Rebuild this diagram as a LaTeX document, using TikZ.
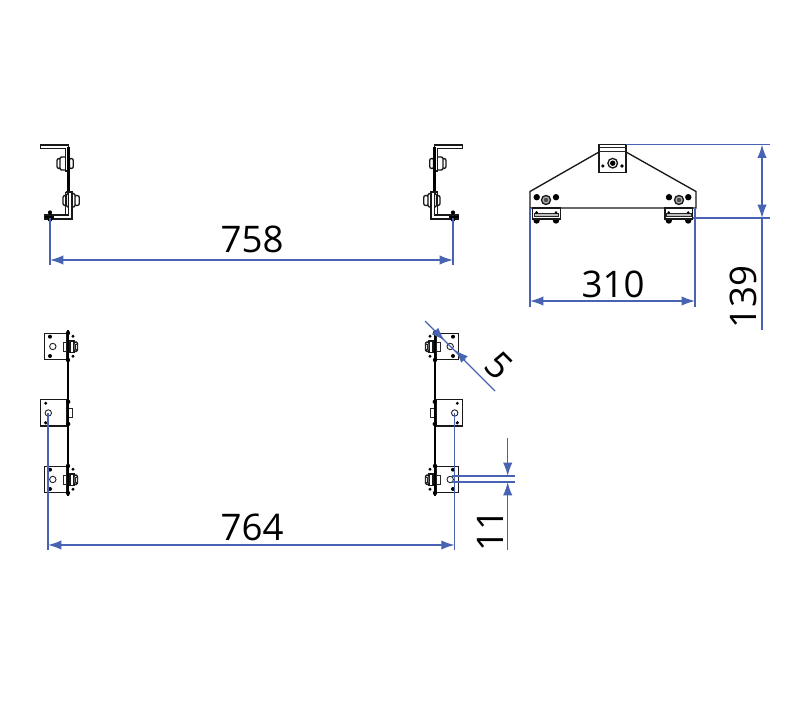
\documentclass[tikz,border=0pt]{standalone}
\usepackage{fontspec}
\setmainfont{Open Sans}
\usetikzlibrary{arrows.meta}
\definecolor{dimblue}{HTML}{4763B2}
\tikzset{
  part/.style={draw=black!90,line width=1pt,fill=white,line join=miter},
  thin part/.style={draw=black!85,line width=0.7pt},
  bar/.style={draw=black,line width=2pt},
  blob/.style={fill=black},
  ext/.style={draw=dimblue,line width=1.05pt},
  dimarrow/.style={draw=dimblue,line width=1.05pt,-{Latex[length=10pt,width=7pt]}},
  dimboth/.style={draw=dimblue,line width=1.05pt,{Latex[length=10pt,width=7pt]}-{Latex[length=10pt,width=7pt]}},
  dimtext/.style={font=\fontsize{27.5}{27.5}\selectfont,text=black,inner sep=0pt}
}
% side view of one bracket (left-hand version)
\newcommand{\sidebracket}{%
  % bolts
  \draw[part,rounded corners=1.5pt] (57,158.5) rectangle (61,168.5);
  \draw[part,rounded corners=1.5pt] (69,158.5) rectangle (73.3,168.5);
  \draw[part,rounded corners=1pt] (60,157) rectangle (69.5,170);
  \draw[part,rounded corners=1.5pt] (63,195.5) rectangle (67,205.5);
  \draw[part,rounded corners=1.5pt] (74.5,195.5) rectangle (79.3,205.5);
  \draw[part,rounded corners=1pt] (66.5,193.5) rectangle (75,207);
  % upper angle
  \draw[part] (40.5,145) -- (68.5,145) -- (68.5,171) -- (65.5,171) -- (65.5,148.3) -- (40.5,148.3) -- cycle;
  % web
  \draw[bar] (68.5,147) -- (68.5,193);
  % lower angle
  \draw[part] (65.5,192) -- (72,192) -- (72,219) -- (44.5,219) -- (44.5,215) -- (68.5,215) -- (68.5,192);
  \draw[part] (65.5,192) -- (65.5,215);
  \fill[blob] (50,212.5) circle (2.1);
  \draw[draw=black,line width=1.5pt] (44.5,217.3) -- (54,217.3);
  \fill[blob] (50,219.3) circle (2.4);
}
% plan view of one bracket (left-hand version)
\newcommand{\planplate}[1]{%
  \begin{scope}[yshift=#1*-0.75pt]
    \draw[part,fill=none] (44.3,333.5) rectangle (67,359.5);
    \draw[thin part] (52.8,346.5) circle (3.2);
    \fill[blob] (50,336.7) circle (2);
    \fill[blob] (50,356) circle (2);
    \draw[thin part] (63,342.5) rectangle (67,351);
    \draw[part] (70,341) rectangle (74,352.5);
    \draw[part,rounded corners=1pt] (74,342) rectangle (77.5,351.5);
    \draw[thin part] (75.5,344) rectangle (77.5,349.5);
    \fill[blob] (68,333) circle (2.2);
    \fill[blob] (68,360) circle (2.2);
    \fill[blob] (73,336.2) circle (1.6);
    \fill[blob] (73,356.2) circle (1.6);
  \end{scope}%
}
\newcommand{\planbracket}{%
  \planplate{0}
  \planplate{133}
  \draw[part,fill=none] (40.3,399.3) rectangle (67,426);
  \draw[thin part] (48.3,413) circle (3.2);
  \fill[blob] (45.7,403.3) circle (1.6);
  \fill[blob] (45.7,422.8) circle (1.8);
  \draw[thin part] (68,408) rectangle (72.5,417);
  \fill[blob] (68.3,401.8) circle (2.1);
  \fill[blob] (68.3,424) circle (2.1);
  \draw[bar] (68,330) -- (68,496);
}
\begin{document}
\begin{tikzpicture}[x=0.75pt,y=-0.75pt]
\useasboundingbox (0,0) rectangle (800,705);
\fill[white] (0,0) rectangle (800,705);

% ---------- side views
\sidebracket
\begin{scope}[xshift=503*0.75pt,xscale=-1]
  \sidebracket
\end{scope}

% ---------- end view
\draw[part] (530,191.5) -- (599,152) -- (626,152) -- (696,191.5) -- (696,208) -- (530,208) -- cycle;
\draw[part] (599,144.3) rectangle (626,172.5);
\draw[thin part] (599,147.8) -- (626,147.8);
\draw[thin part] (599,151.2) -- (626,151.2);
\draw[part] (612.7,163.2) circle (4.8);
\fill[blob] (612.7,163.2) circle (2.7);
\fill[blob] (602.8,166) circle (1.8);
\fill[blob] (622,166) circle (1.8);
\foreach \cx/\dx in {546/1,679/-1}{
  \draw[part,fill=white!70!black] (\cx,200) circle (4.5);
  \fill[black!70] (\cx,200) circle (2.2);
  \fill[blob] (\cx-9.3*\dx,197.2) circle (3.2);
  \fill[blob] (\cx+10*\dx,197.2) circle (3.2);
}
\foreach \bx in {532.8,665}{
  \begin{scope}[shift={(\bx*0.75pt,0)}]
    \fill[blob] (3.8,220.5) circle (3.2);
    \fill[blob] (23.2,220.5) circle (3.2);
    \draw[part] (0,208) rectangle (27.4,219);
    \draw[thin part,fill=white!75!black] (1.5,213) rectangle (26,216.5);
    \fill[blob] (3.8,212.5) circle (1.4);
    \fill[blob] (23.2,212.5) circle (1.4);
  \end{scope}
}

% ---------- plan views
\planbracket
\begin{scope}[xshift=503*0.75pt,xscale=-1]
  \planbracket
\end{scope}

% ---------- named points of the dimensions
\coordinate (a758L) at (50,218);
\coordinate (a758Le) at (50,265);
\coordinate (a758R) at (453,218);
\coordinate (a758Re) at (453,265);
\coordinate (d758L) at (50,260);
\coordinate (d758R) at (453,260);
\coordinate (a310L) at (530,208);
\coordinate (a310Le) at (530,307);
\coordinate (a310R) at (695,208);
\coordinate (a310Re) at (695,307);
\coordinate (d310L) at (530,301);
\coordinate (d310R) at (695,301);
\coordinate (a139T) at (626,144.6);
\coordinate (a139Te) at (770,144.6);
\coordinate (a139B) at (693,218);
\coordinate (a139Be) at (770,218);
\coordinate (d139T) at (762,144.6);
\coordinate (d139B) at (762,218);
\coordinate (d139E) at (762,330);
\coordinate (a764L) at (48,413);
\coordinate (a764Le) at (48,550);
\coordinate (a764R) at (454.6,413);
\coordinate (a764Re) at (454.6,550);
\coordinate (d764L) at (48,545);
\coordinate (d764R) at (454.6,545);
\coordinate (a5s) at (425,321);
\coordinate (a5e) at (495,391);
\coordinate (a5ta) at (435.5,331.5);
\coordinate (a5tb) at (444.5,340.5);
\coordinate (a5tc) at (465,360);
\coordinate (a5td) at (455,350);
\coordinate (a11T) at (452,476);
\coordinate (a11Te) at (515,476);
\coordinate (a11B) at (452,482);
\coordinate (a11Be) at (515,482);
\coordinate (d11a) at (507.7,438);
\coordinate (d11b) at (507.7,476);
\coordinate (d11c) at (507.7,550);
\coordinate (d11d) at (507.7,482);

% ---------- dimension lines
\draw[ext] (a758L) -- (a758Le);
\draw[ext] (a758R) -- (a758Re);
\draw[dimboth] (d758L) -- (d758R);
\draw[ext] (a310L) -- (a310Le);
\draw[ext] (a310R) -- (a310Re);
\draw[dimboth] (d310L) -- (d310R);
\draw[ext] (a139T) -- (a139Te);
\draw[ext] (a139B) -- (a139Be);
\draw[dimboth] (d139T) -- (d139B);
\draw[ext] (d139B) -- (d139E);
\draw[ext] (a764L) -- (a764Le);
\draw[ext] (a764R) -- (a764Re);
\draw[dimboth] (d764L) -- (d764R);
\draw[ext] (a5s) -- (a5e);
\draw[dimarrow] (a5ta) -- (a5tb);
\draw[dimarrow] (a5tc) -- (a5td);
\draw[ext] (a11T) -- (a11Te);
\draw[ext] (a11B) -- (a11Be);
\draw[dimarrow] (d11a) -- (d11b);
\draw[dimarrow] (d11c) -- (d11d);

% ---------- labels
\node[dimtext] (t758) at (252,239) {758};
\node[dimtext] (t310) at (613,284) {310};
\node[dimtext,rotate=90] (t139) at (743,297) {139};
\node[dimtext] (t764) at (252,527) {764};
\node[dimtext,rotate=90] (t11) at (490,531) {11};
\node[dimtext,rotate=-45] (t5) at (499,366) {5};
\end{tikzpicture}
\end{document}
